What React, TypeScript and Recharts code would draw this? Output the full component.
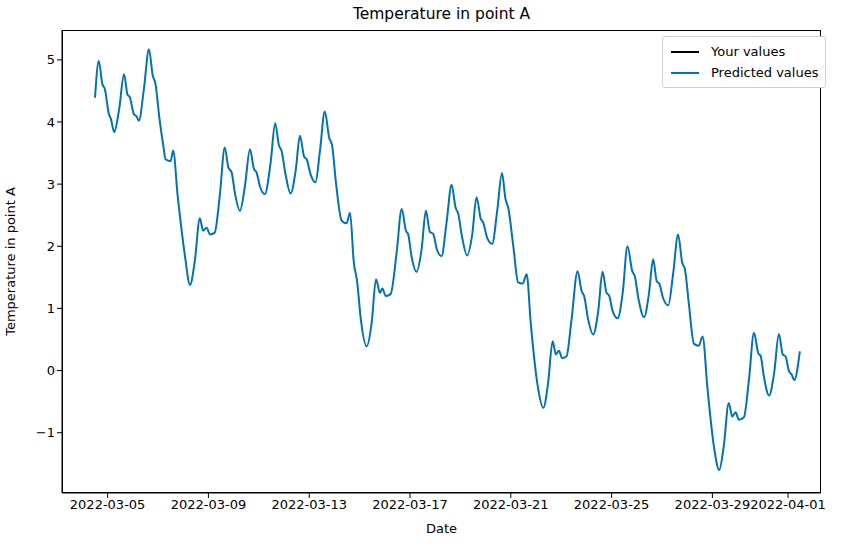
import React from "react";
import { LineChart, Line, XAxis, YAxis } from "recharts";

// days since 2022-03-05 00:00
const days = [
  -0.5, -0.35, -0.21, -0.11, 0.05, 0.13, 0.26, 0.46, 0.65, 0.79, 0.88, 1.04, 1.15, 1.24, 1.44, 1.64, 1.79, 1.9,
  2.05, 2.21, 2.3, 2.5, 2.6, 2.78, 2.9, 3.07, 3.27, 3.46, 3.66, 3.79, 3.93, 4.06, 4.25, 4.45, 4.65, 4.79, 4.92,
  5.06, 5.25, 5.45, 5.65, 5.81, 5.91, 6.04, 6.24, 6.47, 6.65, 6.8, 6.9, 7.06, 7.26, 7.47, 7.63, 7.8, 7.9, 8.06,
  8.25, 8.42, 8.62, 8.79, 8.91, 9.06, 9.29, 9.48, 9.62, 9.77, 9.9, 10.05, 10.28, 10.48, 10.65, 10.81, 10.9,
  11.04, 11.23, 11.47, 11.67, 11.84, 11.93, 12.06, 12.26, 12.46, 12.63, 12.79, 12.92, 13.06, 13.25, 13.45,
  13.65, 13.81, 13.91, 14.07, 14.27, 14.47, 14.64, 14.81, 14.9, 15.06, 15.26, 15.46, 15.65, 15.79, 15.9, 16.1,
  16.29, 16.47, 16.63, 16.79, 17.05, 17.29, 17.48, 17.66, 17.79, 17.91, 18.04, 18.21, 18.41, 18.65, 18.81,
  18.91, 19.07, 19.27, 19.47, 19.64, 19.8, 19.9, 20.04, 20.24, 20.44, 20.63, 20.82, 20.92, 21.06, 21.29,
  21.48, 21.65, 21.79, 21.89, 22.05, 22.25, 22.44, 22.64, 22.8, 22.91, 23.07, 23.27, 23.46, 23.61, 23.81,
  24.06, 24.27, 24.45, 24.65, 24.79, 24.92, 25.05, 25.25, 25.45, 25.65, 25.82, 25.92, 26.04, 26.25, 26.45,
  26.64, 26.79, 26.9, 27.04, 27.14, 27.25, 27.47,
];

const predicted = [
  4.39, 4.98, 4.61, 4.53, 4.13, 4.05, 3.84, 4.21, 4.77, 4.44, 4.4, 4.13, 4.09, 4.02, 4.53, 5.17, 4.75, 4.61,
  4.08, 3.62, 3.4, 3.37, 3.54, 2.81, 2.38, 1.84, 1.38, 1.76, 2.45, 2.25, 2.3, 2.19, 2.22, 2.81, 3.59, 3.27, 3.19,
  2.84, 2.57, 2.97, 3.56, 3.24, 3.19, 2.97, 2.84, 3.35, 3.98, 3.62, 3.54, 3.16, 2.85, 3.24, 3.78, 3.44, 3.4, 3.15,
  3.03, 3.51, 4.17, 3.75, 3.62, 3.03, 2.41, 2.37, 2.54, 1.74, 1.44, 0.82, 0.39, 0.77, 1.47, 1.25, 1.32,
  1.2, 1.23, 1.9, 2.6, 2.25, 2.19, 1.84, 1.59, 1.95, 2.57, 2.23, 2.2, 1.96, 1.84, 2.38,
  2.99, 2.62, 2.53, 2.14, 1.85, 2.19, 2.79, 2.44, 2.39, 2.14, 2.04, 2.57, 3.18, 2.76, 2.62, 2.0,
  1.42, 1.4, 1.55, 0.77, -0.2, -0.6, -0.2, 0.47, 0.26, 0.32, 0.2, 0.23, 0.82, 1.6, 1.28,
  1.2, 0.82, 0.58, 0.96, 1.59, 1.25, 1.21, 0.96, 0.84, 1.25, 2.0, 1.6, 1.52, 1.17, 0.86,
  1.23, 1.79, 1.44, 1.4, 1.16, 1.05, 1.55, 2.19, 1.74, 1.63, 1.06, 0.43, 0.4, 0.55, -0.31,
  -1.22, -1.6, -1.22, -0.52, -0.74, -0.67, -0.79, -0.75, -0.15, 0.61, 0.28, 0.23, -0.09, -0.4, -0.04,
  0.59, 0.26, 0.23, -0.01, -0.06, -0.15, 0.31,
];

const xTicks = [0, 4, 8, 12, 16, 20, 24, 27];
const xTickLabels = ["2022-03-05", "2022-03-09", "2022-03-13", "2022-03-17", "2022-03-21", "2022-03-25", "2022-03-29", "2022-04-01"];
const yTicks = [-1, 0, 1, 2, 3, 4, 5];

const data = days.map((d, i) => ({ d, predicted: predicted[i] }));

const font = "DejaVu Sans, sans-serif";
const tickStyle = { fontSize: 13, fill: "#000", fontFamily: font };

export default function App() {
  document.body.style.margin = "0";
  return (
    <div style={{ position: "relative", width: 844, height: 545, background: "#fff", fontFamily: font }}>
      <div style={{ position: "absolute", top: 5, left: 62, width: 759, textAlign: "center", fontSize: 15.5 }}>
        Temperature in point A
      </div>
      <LineChart width={844} height={545} data={data} margin={{ top: 30, right: 23, bottom: 0, left: 0 }}>
        <XAxis
          dataKey="d"
          type="number"
          domain={[-1.81, 28.31]}
          ticks={xTicks}
          tickFormatter={(v) => xTickLabels[xTicks.indexOf(v)]}
          tick={tickStyle}
          tickLine={{ stroke: "#000" }}
          axisLine={{ stroke: "#000" }}
          tickSize={5}
          height={52}
          label={{ value: "Date", position: "insideBottom", offset: 12, style: tickStyle }}
          interval={0}
        />
        <YAxis
          type="number"
          domain={[-1.97, 5.48]}
          ticks={yTicks}
          tickFormatter={(v) => (v < 0 ? "\u2212" + Math.abs(v) : String(v))}
          tick={tickStyle}
          tickLine={{ stroke: "#000" }}
          axisLine={{ stroke: "#000" }}
          tickSize={5}
          width={62}
          label={{ value: "Temperature in point A", angle: -90, position: "insideLeft", offset: 10, style: { ...tickStyle, textAnchor: "middle" } }}
        />
        <Line type="monotone" dataKey="predicted" stroke="#0173b2" strokeWidth={2} dot={false} isAnimationActive={false} />
      </LineChart>
      <div
        style={{
          position: "absolute",
          left: 62,
          top: 30,
          width: 759,
          height: 463,
          border: "1px solid #000",
          boxSizing: "border-box",
          pointerEvents: "none",
        }}
      />
      <div
        style={{
          position: "absolute",
          left: 662,
          top: 36,
          width: 164,
          border: "1px solid #d0d0d0",
          borderRadius: 3,
          padding: "4px 0 4px 8px",
          fontSize: 13,
          lineHeight: "21px",
          background: "#fff",
          boxSizing: "border-box",
        }}
      >
        {[
          { name: "Your values", color: "#000" },
          { name: "Predicted values", color: "#0173b2" },
        ].map((e) => (
          <div key={e.name} style={{ display: "flex", alignItems: "center" }}>
            <span style={{ width: 28, height: 2, background: e.color, marginRight: 12, display: "inline-block" }} />
            {e.name}
          </div>
        ))}
      </div>
    </div>
  );
}
